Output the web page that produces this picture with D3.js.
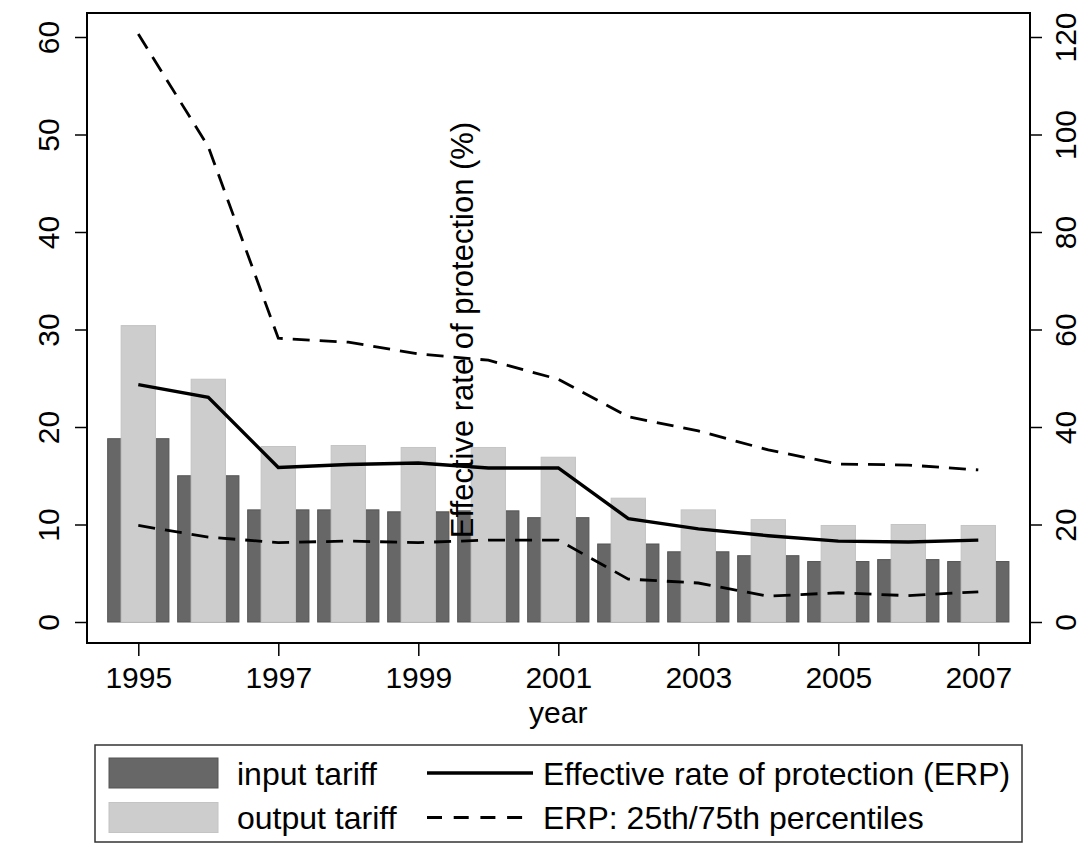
<!DOCTYPE html>
<html>
<head>
<meta charset="utf-8">
<script src="https://cdn.jsdelivr.net/npm/d3@7"></script>
<style>
  html, body { margin: 0; padding: 0; background: #fff; }
  svg { display: block; font-family: "Liberation Sans", Arial, sans-serif; }
</style>
</head>
<body>
<svg id="chart" width="1083" height="846"></svg>
<script>
// ---- data ----
const years = [1995, 1996, 1997, 1998, 1999, 2000, 2001, 2002, 2003, 2004, 2005, 2006, 2007];
const inputTariff  = [18.8, 15.0, 11.5, 11.5, 11.3, 11.4, 10.7, 8.0, 7.2, 6.8, 6.2, 6.4, 6.2];
const outputTariff = [30.4, 24.9, 18.0, 18.1, 17.9, 17.9, 16.9, 12.7, 11.5, 10.5, 9.9, 10.0, 9.9];
const erp          = [48.7, 46.1, 31.7, 32.3, 32.6, 31.6, 31.6, 21.2, 19.1, 17.7, 16.6, 16.4, 16.8];
const erpP25       = [19.8, 17.4, 16.3, 16.6, 16.3, 16.8, 16.8, 8.8, 8.0, 5.3, 6.0, 5.4, 6.2];
const erpP75       = [120.6, 97.5, 58.2, 57.4, 55.0, 53.7, 49.8, 42.1, 39.2, 35.3, 32.4, 32.2, 31.2];
const xTicks = [1995, 1997, 1999, 2001, 2003, 2005, 2007];
const yLeftTicks = [0, 10, 20, 30, 40, 50, 60];
const yRightTicks = [0, 20, 40, 60, 80, 100, 120];
const legendItems = [
  {label: "input tariff", type: "bar", color: "#676767"},
  {label: "output tariff", type: "bar", color: "#cdcdcd"},
  {label: "Effective rate of protection (ERP)", type: "solid"},
  {label: "ERP: 25th/75th percentiles", type: "dash"}
];

// ---- layout ----
const svg = d3.select("#chart");
const frame = {left: 87, right: 1030, top: 13, bottom: 643};
const x = d3.scaleLinear().domain([1995, 2007]).range([138.3, 978.3]);
const yL = d3.scaleLinear().domain([0, 60]).range([622, 37]);
const yR = d3.scaleLinear().domain([0, 120]).range([622, 37]);
const FS = 30, LFS = 32;

svg.append("rect").attr("width", 1083).attr("height", 846).attr("fill", "#fff");

// bars
const pxPerYear = x(1996) - x(1995);
const wIn = 0.875 * pxPerYear, wOut = 0.49 * pxPerYear;
svg.append("g").selectAll("rect").data(years).join("rect")
  .attr("x", (d) => x(d) - wIn / 2).attr("width", wIn)
  .attr("y", (d, i) => yL(inputTariff[i])).attr("height", (d, i) => yL(0) - yL(inputTariff[i]))
  .attr("fill", "#676767").attr("stroke", "#555").attr("stroke-width", 1);
svg.append("g").selectAll("rect").data(years).join("rect")
  .attr("x", (d) => x(d) - wOut / 2).attr("width", wOut)
  .attr("y", (d, i) => yL(outputTariff[i])).attr("height", (d, i) => yL(0) - yL(outputTariff[i]))
  .attr("fill", "#cdcdcd").attr("stroke", "#c4c4c4").attr("stroke-width", 1);

// lines
const line = (arr) => d3.line().x((d, i) => x(years[i])).y((d) => yR(d))(arr);
svg.append("path").attr("d", line(erp)).attr("fill", "none").attr("stroke", "#000").attr("stroke-width", 3.4);
[erpP25, erpP75].forEach(arr => {
  svg.append("path").attr("d", line(arr)).attr("fill", "none").attr("stroke", "#000")
    .attr("stroke-width", 2.8).attr("stroke-dasharray", "17,10");
});

// frame
svg.append("rect").attr("x", frame.left).attr("y", frame.top)
  .attr("width", frame.right - frame.left).attr("height", frame.bottom - frame.top)
  .attr("fill", "none").attr("stroke", "#000").attr("stroke-width", 2);

// x axis
const gx = svg.append("g").attr("transform", `translate(0,${frame.bottom})`)
  .call(d3.axisBottom(x).tickValues(xTicks).tickFormat(d3.format("d")).tickSize(13).tickPadding(11));
gx.select(".domain").remove();
gx.selectAll("line").attr("stroke", "#000").attr("stroke-width", 1.5);
gx.selectAll("text").attr("font-size", FS).attr("font-family", "Liberation Sans, Arial, sans-serif").attr("fill", "#000");

svg.append("text").attr("x", x(2001)).attr("y", 723).attr("text-anchor", "middle")
  .attr("font-size", FS).attr("fill", "#000").text("year");

// left axis
const gl = svg.append("g").attr("transform", `translate(${frame.left},0)`)
  .call(d3.axisLeft(yL).tickValues(yLeftTicks).tickSize(12).tickFormat(d3.format("d")));
gl.select(".domain").remove();
gl.selectAll("line").attr("stroke", "#000").attr("stroke-width", 1.5);
gl.selectAll("text").attr("font-size", FS).attr("font-family", "Liberation Sans, Arial, sans-serif").attr("fill", "#000")
  .attr("x", null).attr("dy", null).attr("text-anchor", "middle")
  .attr("transform", "translate(-28,0) rotate(-90)");

// right axis
const gr = svg.append("g").attr("transform", `translate(${frame.right},0)`)
  .call(d3.axisRight(yR).tickValues(yRightTicks).tickSize(12).tickFormat(d3.format("d")));
gr.select(".domain").remove();
gr.selectAll("line").attr("stroke", "#000").attr("stroke-width", 1.5);
gr.selectAll("text").attr("font-size", FS).attr("font-family", "Liberation Sans, Arial, sans-serif").attr("fill", "#000")
  .attr("x", null).attr("dy", null).attr("text-anchor", "middle")
  .attr("transform", "translate(46,0) rotate(-90)");

// misplaced axis title in middle
svg.append("text").attr("transform", "translate(473,330) rotate(-90)")
  .attr("text-anchor", "middle").attr("font-size", 31).attr("fill", "#000")
  .text("Effective rate of protection (%)");

// legend
const lg = svg.append("g");
lg.append("rect").attr("x", 95).attr("y", 745).attr("width", 927).attr("height", 97)
  .attr("fill", "#fff").attr("stroke", "#333").attr("stroke-width", 1.5);
const rowsY = [773, 817.5];
legendItems.forEach((it, i) => {
  const col = Math.floor(i / 2), row = i % 2;
  const cy = rowsY[row];
  if (it.type === "bar") {
    lg.append("rect").attr("x", 109).attr("y", cy - 15).attr("width", 109).attr("height", 30)
      .attr("fill", it.color).attr("stroke", it.color === "#676767" ? "#555" : "#c4c4c4");
    lg.append("text").attr("x", 237).attr("y", cy + 11.5).attr("font-size", LFS).attr("fill", "#000").text(it.label);
  } else {
    lg.append("line").attr("x1", 427).attr("x2", 533).attr("y1", cy).attr("y2", cy)
      .attr("stroke", "#000").attr("stroke-width", it.type === "solid" ? 3.4 : 2.8)
      .attr("stroke-dasharray", it.type === "dash" ? "15,11.7" : null);
    lg.append("text").attr("x", 543).attr("y", cy + 11.5).attr("font-size", LFS).attr("fill", "#000").text(it.label);
  }
});
</script>
</body>
</html>
